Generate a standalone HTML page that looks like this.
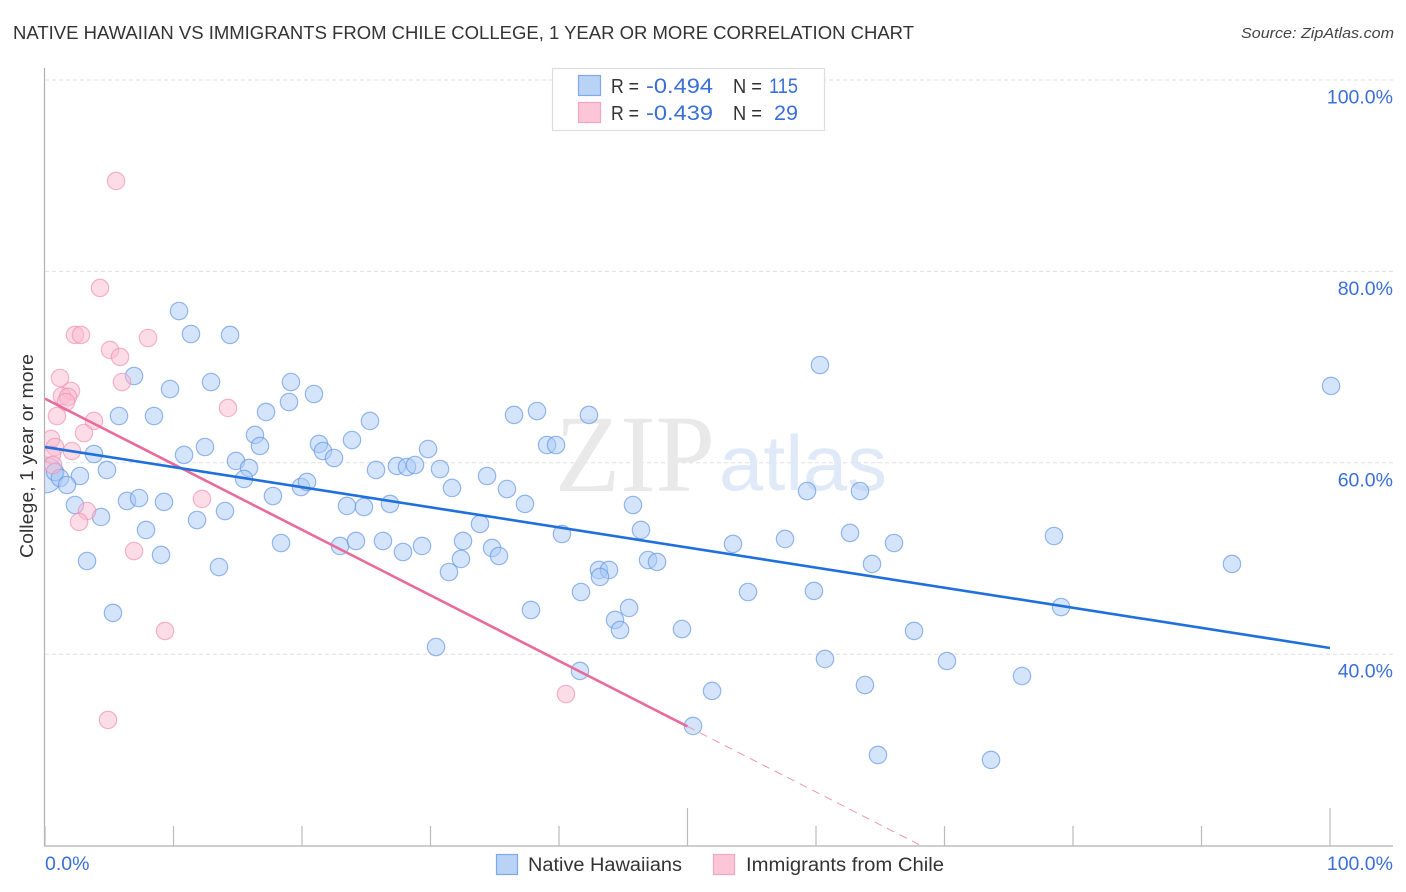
<!DOCTYPE html>
<html>
<head>
<meta charset="utf-8">
<title>Native Hawaiian vs Immigrants from Chile College Correlation Chart</title>
<style>
html,body{margin:0;padding:0;background:#fff;width:1406px;height:892px;overflow:hidden}
svg{display:block}
text{font-family:"Liberation Sans",sans-serif}
</style>
</head>
<body>
<svg id="chart" width="1406" height="892" viewBox="0 0 1406 892" xmlns="http://www.w3.org/2000/svg">
  <defs><clipPath id="plot-clip"><rect x="45" y="60" width="1350" height="786"/></clipPath></defs>
  <text x="13" y="39" font-size="18.5" fill="#333" textLength="901" lengthAdjust="spacingAndGlyphs">NATIVE HAWAIIAN VS IMMIGRANTS FROM CHILE COLLEGE, 1 YEAR OR MORE CORRELATION CHART</text>
  <text x="1394" y="38" font-size="15" font-style="italic" fill="#444" text-anchor="end" textLength="153" lengthAdjust="spacingAndGlyphs">Source: ZipAtlas.com</text>

  <g id="grid"></g>

  <g>
    <text x="555" y="491" style="font-family:'Liberation Serif',serif" font-size="110" fill="#e9e9e9" textLength="160" lengthAdjust="spacingAndGlyphs">ZIP</text>
    <text x="719" y="490" font-size="78" fill="#dfe9f8" textLength="168" lengthAdjust="spacingAndGlyphs">atlas</text>
  </g>

  <g id="axes">
    <line x1="44.5" y1="68" x2="44.5" y2="846.5" stroke="#b0b0b0" stroke-width="1.2"/>
    <line x1="44" y1="846" x2="1393" y2="846" stroke="#b0b0b0" stroke-width="1.2"/>
  </g>

  <g id="points" clip-path="url(#plot-clip)"></g>
  <g id="trends" clip-path="url(#plot-clip)"></g>
  <g id="labels"></g>

  <text transform="translate(33,456) rotate(-90)" font-size="18" fill="#333" text-anchor="middle" textLength="204" lengthAdjust="spacingAndGlyphs">College, 1 year or more</text>

  <g>
    <rect x="552.5" y="68.5" width="272" height="62" fill="#fff" stroke="#ddd" stroke-width="1.2"/>
    <rect x="578.5" y="75.5" width="22" height="20" fill="#b9d3f6" stroke="#7ea8e6" stroke-width="1.2"/>
    <rect x="578.5" y="102.5" width="22" height="20" fill="#fcc6d8" stroke="#f4a6bf" stroke-width="1.2"/>
    <text x="611" y="93" font-size="20" fill="#333" textLength="28" lengthAdjust="spacingAndGlyphs">R =</text>
    <text x="646" y="93" font-size="21" fill="#3a6fd8" textLength="67" lengthAdjust="spacingAndGlyphs">-0.494</text>
    <text x="733" y="93" font-size="20" fill="#333" textLength="29" lengthAdjust="spacingAndGlyphs">N =</text>
    <text x="769" y="93" font-size="21" fill="#3a6fd8" textLength="29" lengthAdjust="spacingAndGlyphs">115</text>
    <text x="611" y="120" font-size="20" fill="#333" textLength="28" lengthAdjust="spacingAndGlyphs">R =</text>
    <text x="646" y="120" font-size="21" fill="#3a6fd8" textLength="67" lengthAdjust="spacingAndGlyphs">-0.439</text>
    <text x="733" y="120" font-size="20" fill="#333" textLength="29" lengthAdjust="spacingAndGlyphs">N =</text>
    <text x="774" y="120" font-size="21" fill="#3a6fd8" textLength="24" lengthAdjust="spacingAndGlyphs">29</text>
  </g>

  <g>
    <rect x="496.5" y="854.5" width="21" height="20" fill="#b9d3f6" stroke="#7ea8e6" stroke-width="1.2"/>
    <text x="528" y="871" font-size="19" fill="#333" textLength="154" lengthAdjust="spacingAndGlyphs">Native Hawaiians</text>
    <rect x="713.5" y="854.5" width="21" height="20" fill="#fcc6d8" stroke="#f4a6bf" stroke-width="1.2"/>
    <text x="746" y="871" font-size="19" fill="#333" textLength="198" lengthAdjust="spacingAndGlyphs">Immigrants from Chile</text>
  </g>
</svg>
<script>
// Data values, in percent
const yGridValues = [100, 80, 60, 40];
const yTickLabels = ['100.0%', '80.0%', '60.0%', '40.0%'];
const xTickValues = [0, 10, 20, 30, 40, 50, 60, 70, 80, 90, 100];
const xMajorTickValues = [50, 100];
const xEndValues = [0, 100];
const xEndLabels = ['0.0%', '100.0%'];

const hawaiianX = [10.43,11.36,14.40,60.31,100.08,6.93,9.73,12.92,19.14,20.93,18.99,17.20,5.76,8.48,25.29,36.50,38.29,42.33,16.34,12.45,16.73,21.32,21.63,22.49,23.89,29.81,39.07,39.77,3.81,10.82,14.86,15.88,4.82,2.72,0.78,1.17,1.71,15.49,17.74,19.92,20.39,25.76,27.39,28.17,28.79,30.74,34.40,31.67,35.95,37.35,6.38,7.32,9.26,2.33,4.36,11.83,14.01,23.50,24.82,26.85,45.76,59.30,63.42,33.85,7.86,46.38,40.23,62.65,18.37,22.96,24.20,26.30,29.34,27.86,32.53,34.79,35.33,32.37,53.54,57.59,66.07,78.52,3.27,9.03,13.54,31.44,46.93,47.63,64.36,92.37,43.11,43.89,43.19,41.71,54.71,59.84,5.29,37.82,45.45,44.36,44.75,49.57,79.07,67.63,30.43,60.70,70.19,41.63,76.03,63.81,51.91,50.43,64.82,73.62];
const hawaiianY = [75.86,73.46,73.36,70.22,68.03,69.07,67.71,68.44,68.44,67.19,66.35,65.31,64.89,64.89,64.37,65.00,65.41,65.00,62.91,61.65,61.76,61.97,61.23,60.50,62.38,61.44,61.86,61.86,60.92,60.82,60.19,59.46,59.25,58.62,59.04,58.41,57.68,58.31,56.53,57.47,58.00,59.25,59.67,59.56,59.77,59.35,58.62,57.37,57.26,55.70,56.01,56.32,55.91,55.59,54.34,54.02,54.96,55.49,55.38,55.70,55.59,57.05,57.05,53.61,52.98,52.98,52.56,52.67,51.62,51.31,51.83,51.83,51.31,50.68,51.83,51.10,50.26,49.95,51.52,52.04,51.62,52.35,49.74,50.37,49.11,48.59,49.84,49.64,49.43,49.43,48.80,48.80,48.07,46.50,46.50,46.61,44.31,44.62,44.83,43.58,42.53,42.63,44.93,42.43,40.75,39.50,39.29,38.25,37.72,36.78,36.16,32.50,29.47,28.95];
const hawaiianLargeX = [0];
const hawaiianLargeY = [58.73];

const chileX = [5.53,4.28,2.33,2.80,8.02,5.06,5.84,1.17,5.99,2.02,1.32,1.79,1.63,14.24,0.93,3.81,3.03,0.47,0.78,2.10,0.54,0.62,12.22,3.27,2.65,6.93,9.34,40.54,4.90];
const chileY = [89.45,78.27,73.36,73.36,73.04,71.79,71.06,68.86,68.44,67.50,66.98,66.88,66.35,65.73,64.89,64.37,63.11,62.49,61.65,61.23,60.82,59.77,56.22,54.96,53.82,50.78,42.43,35.84,33.13];

const hawaiianTrendX = [0, 100];
const hawaiianTrendY = [61.65, 40.65];
const chileTrendX = [0, 50];
const chileTrendY = [66.7, 32.45];
const chileDashX = [50, 68.1];
const chileDashY = [32.45, 20.05];

// Axis functions
function xScale(v) { return 45 + v * 12.85; }
function yScale(v) { return 80 + (100 - v) * 9.57; }

const NS = 'http://www.w3.org/2000/svg';
function mk(tag, parent, attrs) {
  const el = document.createElementNS(NS, tag);
  for (const k in attrs) el.setAttribute(k, attrs[k]);
  parent.appendChild(el);
  return el;
}

const gridG = document.getElementById('grid');
const axesG = document.getElementById('axes');
const labelsG = document.getElementById('labels');
const pointsG = document.getElementById('points');
const trendsG = document.getElementById('trends');

yGridValues.forEach(function (v, i) {
  const line = mk('line', gridG, {x1: 45, x2: 1393, y1: yScale(v), y2: yScale(v), stroke: '#e0e0e0', 'stroke-width': 1, 'stroke-dasharray': '4 3'});
  
  
  const label = mk('text', labelsG, {x: 1393, y: yScale(v) + 23.5, 'font-size': 19.5, fill: '#3a6fd8', 'text-anchor': 'end'});
  label.textContent = yTickLabels[i];
  
  
});

xTickValues.forEach(function (v) {
  const major = xMajorTickValues.indexOf(v) >= 0;
  const tick = mk('line', axesG, {x1: xScale(v), x2: xScale(v), y1: major ? 808 : 826, y2: 846, stroke: '#bbb', 'stroke-width': 1.2});
  
  
});

xEndValues.forEach(function (v, i) {
  const label = mk('text', labelsG, {x: i === 0 ? xScale(v) : 1393, y: 870, 'font-size': 19.5, fill: '#3a6fd8', 'text-anchor': i === 0 ? 'start' : 'end'});
  label.textContent = xEndLabels[i];
  
  
});

function drawDots(xs, ys, r, fill, stroke, name) {
  xs.forEach(function (xv, i) {
    const c = mk('circle', pointsG, {cx: xScale(xv), cy: yScale(ys[i]), r: r, fill: fill, 'fill-opacity': 0.5, stroke: stroke, 'stroke-opacity': 0.65, 'stroke-width': 1.2});
    
    
  });
}
drawDots(hawaiianLargeX, hawaiianLargeY, 18, '#a9c9f5', '#5f94e4', 'native-hawaiians-large-point');
drawDots(hawaiianX, hawaiianY, 8.7, '#a9c9f5', '#5f94e4', 'native-hawaiians-point');
drawDots(chileX, chileY, 8.7, '#f9b9cf', '#f08fb0', 'immigrants-chile-point');

function drawLine(xs, ys, stroke, width, dash, name) {
  const l = mk('line', trendsG, {x1: xScale(xs[0]), y1: yScale(ys[0]), x2: xScale(xs[1]), y2: yScale(ys[1]), stroke: stroke, 'stroke-width': width});
  if (dash) l.setAttribute('stroke-dasharray', dash);
  
  
}
drawLine(chileTrendX, chileTrendY, '#e96b9b', 2.6, null, 'immigrants-chile-trend-line');
drawLine(chileDashX, chileDashY, '#f095b5', 1, '8 6', 'immigrants-chile-trend-extension');
drawLine(hawaiianTrendX, hawaiianTrendY, '#1f6fdc', 2.6, null, 'native-hawaiians-trend-line');
</script>
</body>
</html>
